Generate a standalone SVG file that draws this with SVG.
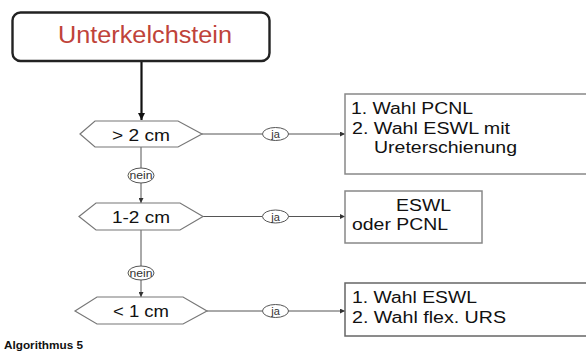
<svg xmlns="http://www.w3.org/2000/svg" width="586" height="353" viewBox="0 0 586 353">
  <defs>
    <marker id="arrowBig" viewBox="0 0 10 10" refX="10" refY="5" markerWidth="7" markerHeight="7" markerUnits="userSpaceOnUse" orient="auto">
      <path d="M0,0 L10,5 L0,10 z" fill="#111"/>
    </marker>
    <marker id="arrowSmall" viewBox="0 0 10 10" refX="10" refY="5" markerWidth="5" markerHeight="5" markerUnits="userSpaceOnUse" orient="auto">
      <path d="M0,0 L10,5 L0,10 z" fill="#333"/>
    </marker>
  </defs>
  <style>
    text { font-family: "Liberation Sans", Arial, sans-serif; fill: #111; }
    .title { font-size: 23.5px; fill: #c0433a; }
    .dec { font-size: 16px; }
    .res { font-size: 16px; }
    .lbl { font-size: 11px; fill: #333; }
    .lbl-n { font-size: 10px; fill: #333; }
    .hex { fill: #fff; stroke: #777; stroke-width: 1.2; }
    .box { fill: #fff; stroke: #888; stroke-width: 1.5; }
    .oval { fill: #fff; stroke: #555; stroke-width: 1; }
    .conn { fill: none; stroke: #555; stroke-width: 1; }
    .foot { font-size: 10.5px; font-weight: bold; }
  </style>
  <rect width="586" height="353" fill="#fff"/>

  <!-- connectors -->
  <g id="connectors">
    <line x1="141.5" y1="62" x2="141.5" y2="120" stroke="#111" stroke-width="2.2" marker-end="url(#arrowBig)"/>
    <line class="conn" x1="141" y1="147" x2="141" y2="168"/>
    <line class="conn" x1="141" y1="183" x2="141" y2="203" marker-end="url(#arrowSmall)"/>
    <line class="conn" x1="141" y1="230" x2="141" y2="266"/>
    <line class="conn" x1="141" y1="280" x2="141" y2="297" marker-end="url(#arrowSmall)"/>
    <line class="conn" x1="202" y1="134" x2="262" y2="134"/>
    <line class="conn" x1="288" y1="134" x2="345" y2="134" marker-end="url(#arrowSmall)"/>
    <line class="conn" x1="203" y1="216.5" x2="262" y2="216.5"/>
    <line class="conn" x1="288" y1="216.5" x2="345" y2="216.5" marker-end="url(#arrowSmall)"/>
    <line class="conn" x1="207" y1="311" x2="262" y2="311"/>
    <line class="conn" x1="288" y1="311" x2="345" y2="311" marker-end="url(#arrowSmall)"/>
    <ellipse class="oval" cx="275.5" cy="134" rx="13" ry="6.5"/>
    <text class="lbl" x="275.5" y="138" text-anchor="middle">ja</text>
    <ellipse class="oval" cx="275.5" cy="216.5" rx="13" ry="6.5"/>
    <text class="lbl" x="275.5" y="220.5" text-anchor="middle">ja</text>
    <ellipse class="oval" cx="275.5" cy="311" rx="13" ry="6.5"/>
    <text class="lbl" x="275.5" y="315" text-anchor="middle">ja</text>
    <ellipse class="oval" cx="141" cy="175.5" rx="13" ry="7.5"/>
    <text class="lbl-n" x="141" y="179" text-anchor="middle" textLength="23" lengthAdjust="spacingAndGlyphs">nein</text>
    <ellipse class="oval" cx="141" cy="273" rx="13" ry="7"/>
    <text class="lbl-n" x="141" y="276.5" text-anchor="middle" textLength="23" lengthAdjust="spacingAndGlyphs">nein</text>
  </g>

  <!-- start node -->
  <g id="start">
    <rect x="12.5" y="12.5" width="257" height="48.5" rx="8" ry="8" fill="#fff" stroke="#222" stroke-width="2.4"/>
    <text class="title" x="58" y="43" textLength="174" lengthAdjust="spacingAndGlyphs">Unterkelchstein</text>
  </g>

  <!-- decisions -->
  <g id="dec-gt2">
    <polygon class="hex" points="80,134 95,121 178,121 202,134 178,147 95,147"/>
    <text class="dec" x="112" y="141" textLength="58" lengthAdjust="spacingAndGlyphs">&gt; 2 cm</text>
  </g>
  <g id="dec-1to2">
    <polygon class="hex" points="79,216.5 96,203 180,203 203,216.5 180,230 96,230"/>
    <text class="dec" x="112" y="222.5" textLength="58" lengthAdjust="spacingAndGlyphs">1-2 cm</text>
  </g>
  <g id="dec-lt1">
    <polygon class="hex" points="75,311 97,297 183,297 207,311 183,324 97,324"/>
    <text class="dec" x="113" y="317" textLength="56" lengthAdjust="spacingAndGlyphs">&lt; 1 cm</text>
  </g>

  <!-- results -->
  <g id="res-gt2">
    <rect class="box" x="345" y="94" width="245" height="80"/>
    <text class="res" x="351" y="114" textLength="122" lengthAdjust="spacingAndGlyphs">1. Wahl PCNL</text>
    <text class="res" x="352" y="133.5" textLength="158" lengthAdjust="spacingAndGlyphs">2. Wahl ESWL mit</text>
    <text class="res" x="374" y="153" textLength="143" lengthAdjust="spacingAndGlyphs">Ureterschienung</text>
  </g>
  <g id="res-1to2">
    <rect class="box" x="345" y="191" width="137" height="52"/>
    <text class="res" x="396" y="210.5" textLength="55" lengthAdjust="spacingAndGlyphs">ESWL</text>
    <text class="res" x="352" y="229.5" textLength="96" lengthAdjust="spacingAndGlyphs">oder PCNL</text>
  </g>
  <g id="res-lt1">
    <rect x="345" y="283" width="245" height="53" fill="#fff" stroke="#666" stroke-width="1.5"/>
    <text class="res" x="352" y="303" textLength="125" lengthAdjust="spacingAndGlyphs">1. Wahl ESWL</text>
    <text class="res" x="352" y="323" textLength="154" lengthAdjust="spacingAndGlyphs">2. Wahl flex. URS</text>
  </g>

  <text class="foot" x="4" y="349" textLength="79" lengthAdjust="spacingAndGlyphs">Algorithmus 5</text>
</svg>
